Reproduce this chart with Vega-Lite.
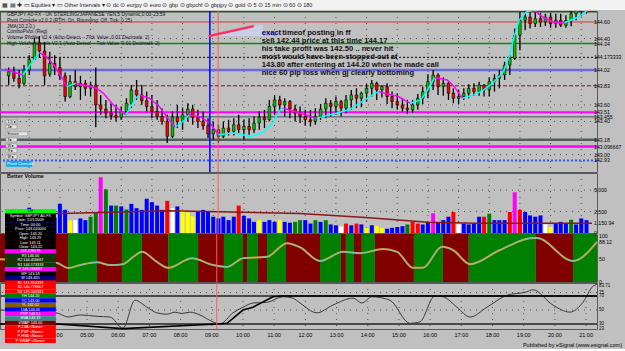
{
"$schema": "https://vega.github.io/schema/vega-lite/v6.json",
"padding": {"left": -5, "right": 0, "top": 0, "bottom": 0},
"autosize": {"type": "pad"},
"background": "#c0c0c0",
"spacing": 1,
"bounds": "flush",
"resolve": {"scale": {"x": "independent", "y": "independent", "color": "independent", "strokeDash": "independent", "strokeWidth": "independent"}},
"config": {
  "view": {"fill": "#c0c0c0", "stroke": "#5a5a5a", "strokeWidth": 1},
  "font": "Liberation Sans"
},
"datasets": {
  "candles": [
    {"t":2.33,"o":143.95,"h":144.05,"l":143.84,"c":144.00},{"t":2.5,"o":144.00,"h":144.06,"l":143.88,"c":143.92},{"t":2.67,"o":143.92,"h":144.02,"l":143.80,"c":143.86},{"t":2.83,"o":143.86,"h":144.08,"l":143.84,"c":144.02},
    {"t":3,"o":144.02,"h":144.20,"l":143.96,"c":144.15},{"t":3.17,"o":144.15,"h":144.41,"l":144.14,"c":144.35},{"t":3.33,"o":144.35,"h":144.43,"l":144.17,"c":144.25},{"t":3.5,"o":144.25,"h":144.36,"l":143.84,"c":143.95},{"t":3.67,"o":143.97,"h":144.24,"l":143.94,"c":144.10},{"t":3.83,"o":144.10,"h":144.20,"l":143.96,"c":144.05},
    {"t":4,"o":144.05,"h":144.17,"l":143.90,"c":143.95},{"t":4.17,"o":143.95,"h":143.99,"l":143.64,"c":143.70},{"t":4.33,"o":143.70,"h":143.96,"l":143.68,"c":143.88},{"t":4.5,"o":143.88,"h":144.02,"l":143.78,"c":143.82},{"t":4.67,"o":143.82,"h":143.95,"l":143.66,"c":143.86},{"t":4.83,"o":143.86,"h":143.90,"l":143.71,"c":143.80},
    {"t":5,"o":143.80,"h":143.88,"l":143.70,"c":143.84},{"t":5.17,"o":143.84,"h":144.05,"l":143.33,"c":143.60},{"t":5.33,"o":143.60,"h":143.72,"l":143.48,"c":143.55},{"t":5.5,"o":143.55,"h":143.66,"l":143.44,"c":143.50},{"t":5.67,"o":143.50,"h":143.62,"l":143.42,"c":143.47},{"t":5.83,"o":143.47,"h":143.60,"l":143.40,"c":143.45},
    {"t":6,"o":143.45,"h":143.58,"l":143.42,"c":143.52},{"t":6.17,"o":143.52,"h":143.68,"l":143.48,"c":143.62},{"t":6.33,"o":143.62,"h":143.84,"l":143.56,"c":143.78},{"t":6.5,"o":143.78,"h":143.90,"l":143.66,"c":143.72},{"t":6.67,"o":143.72,"h":143.84,"l":143.60,"c":143.65},{"t":6.83,"o":143.65,"h":143.76,"l":143.52,"c":143.58},
    {"t":7,"o":143.58,"h":143.72,"l":143.44,"c":143.52},{"t":7.17,"o":143.52,"h":143.66,"l":143.42,"c":143.46},{"t":7.33,"o":143.46,"h":143.56,"l":143.36,"c":143.40},{"t":7.5,"o":143.40,"h":143.48,"l":143.14,"c":143.22},{"t":7.67,"o":143.22,"h":143.52,"l":143.20,"c":143.45},{"t":7.83,"o":143.45,"h":143.60,"l":143.32,"c":143.40},
    {"t":8,"o":143.40,"h":143.56,"l":143.30,"c":143.48},{"t":8.17,"o":143.48,"h":143.62,"l":143.40,"c":143.55},{"t":8.33,"o":143.55,"h":143.60,"l":143.36,"c":143.45},{"t":8.5,"o":143.45,"h":143.54,"l":143.32,"c":143.40},{"t":8.67,"o":143.40,"h":143.52,"l":143.30,"c":143.35},{"t":8.83,"o":143.35,"h":143.44,"l":143.20,"c":143.25},
    {"t":9,"o":143.25,"h":143.40,"l":143.18,"c":143.30},{"t":9.17,"o":143.30,"h":143.36,"l":143.14,"c":143.22},{"t":9.33,"o":143.22,"h":143.40,"l":143.20,"c":143.32},{"t":9.5,"o":143.32,"h":143.42,"l":143.23,"c":143.28},{"t":9.67,"o":143.28,"h":143.44,"l":143.23,"c":143.36},{"t":9.83,"o":143.36,"h":143.48,"l":143.26,"c":143.30},
    {"t":10,"o":143.30,"h":143.42,"l":143.18,"c":143.34},{"t":10.17,"o":143.34,"h":143.44,"l":143.24,"c":143.30},{"t":10.33,"o":143.30,"h":143.46,"l":143.26,"c":143.38},{"t":10.5,"o":143.38,"h":143.52,"l":143.30,"c":143.45},{"t":10.67,"o":143.45,"h":143.54,"l":143.32,"c":143.42},{"t":10.83,"o":143.42,"h":143.66,"l":143.40,"c":143.58},
    {"t":11,"o":143.58,"h":143.72,"l":143.48,"c":143.66},{"t":11.17,"o":143.66,"h":143.71,"l":143.52,"c":143.60},{"t":11.33,"o":143.60,"h":143.68,"l":143.46,"c":143.64},{"t":11.5,"o":143.64,"h":143.66,"l":143.44,"c":143.55},{"t":11.67,"o":143.55,"h":143.60,"l":143.40,"c":143.50},{"t":11.83,"o":143.50,"h":143.58,"l":143.38,"c":143.46},
    {"t":12,"o":143.46,"h":143.54,"l":143.35,"c":143.42},{"t":12.17,"o":143.42,"h":143.54,"l":143.34,"c":143.40},{"t":12.33,"o":143.40,"h":143.56,"l":143.36,"c":143.46},{"t":12.5,"o":143.46,"h":143.61,"l":143.42,"c":143.55},{"t":12.67,"o":143.55,"h":143.68,"l":143.44,"c":143.62},{"t":12.83,"o":143.62,"h":143.66,"l":143.46,"c":143.58},
    {"t":13,"o":143.58,"h":143.70,"l":143.48,"c":143.64},{"t":13.17,"o":143.64,"h":143.66,"l":143.46,"c":143.56},{"t":13.33,"o":143.56,"h":143.72,"l":143.50,"c":143.66},{"t":13.5,"o":143.66,"h":143.78,"l":143.54,"c":143.72},{"t":13.67,"o":143.72,"h":143.80,"l":143.56,"c":143.68},{"t":13.83,"o":143.68,"h":143.76,"l":143.57,"c":143.74},
    {"t":14,"o":143.74,"h":143.85,"l":143.64,"c":143.80},{"t":14.17,"o":143.80,"h":143.90,"l":143.70,"c":143.86},{"t":14.33,"o":143.86,"h":143.88,"l":143.66,"c":143.78},{"t":14.5,"o":143.78,"h":143.84,"l":143.69,"c":143.82},{"t":14.67,"o":143.82,"h":143.86,"l":143.61,"c":143.70},{"t":14.83,"o":143.70,"h":143.76,"l":143.56,"c":143.64},
    {"t":15,"o":143.64,"h":143.74,"l":143.54,"c":143.60},{"t":15.17,"o":143.60,"h":143.68,"l":143.52,"c":143.56},{"t":15.33,"o":143.56,"h":143.66,"l":143.49,"c":143.54},{"t":15.5,"o":143.54,"h":143.66,"l":143.50,"c":143.60},{"t":15.67,"o":143.60,"h":143.73,"l":143.54,"c":143.68},{"t":15.83,"o":143.68,"h":143.82,"l":143.61,"c":143.76},
    {"t":16,"o":143.76,"h":143.97,"l":143.68,"c":143.88},{"t":16.17,"o":143.88,"h":144.02,"l":143.78,"c":143.96},{"t":16.33,"o":143.96,"h":143.98,"l":143.72,"c":143.82},{"t":16.5,"o":143.82,"h":143.93,"l":143.71,"c":143.86},{"t":16.67,"o":143.86,"h":143.88,"l":143.66,"c":143.74},{"t":16.83,"o":143.74,"h":143.80,"l":143.62,"c":143.68},
    {"t":17,"o":143.68,"h":143.78,"l":143.61,"c":143.70},{"t":17.17,"o":143.70,"h":143.80,"l":143.66,"c":143.74},{"t":17.33,"o":143.74,"h":143.85,"l":143.68,"c":143.80},{"t":17.5,"o":143.80,"h":143.86,"l":143.71,"c":143.76},{"t":17.67,"o":143.76,"h":143.88,"l":143.71,"c":143.84},{"t":17.83,"o":143.84,"h":143.85,"l":143.70,"c":143.78},
    {"t":18,"o":143.78,"h":143.93,"l":143.70,"c":143.88},{"t":18.17,"o":143.88,"h":143.97,"l":143.76,"c":143.92},{"t":18.33,"o":143.92,"h":144.02,"l":143.80,"c":143.96},{"t":18.5,"o":143.96,"h":144.12,"l":143.90,"c":144.08},{"t":18.67,"o":144.08,"h":144.20,"l":143.96,"c":144.16},{"t":18.83,"o":144.16,"h":144.52,"l":144.14,"c":144.44},
    {"t":19,"o":144.44,"h":144.72,"l":144.26,"c":144.62},{"t":19.17,"o":144.62,"h":144.76,"l":144.50,"c":144.66},{"t":19.33,"o":144.66,"h":144.76,"l":144.52,"c":144.58},{"t":19.5,"o":144.58,"h":144.72,"l":144.54,"c":144.64},{"t":19.67,"o":144.64,"h":144.71,"l":144.54,"c":144.60},{"t":19.83,"o":144.60,"h":144.70,"l":144.55,"c":144.66},
    {"t":20,"o":144.66,"h":144.71,"l":144.53,"c":144.58},{"t":20.17,"o":144.58,"h":144.70,"l":144.53,"c":144.62},{"t":20.33,"o":144.62,"h":144.70,"l":144.54,"c":144.56},{"t":20.5,"o":144.56,"h":144.68,"l":144.53,"c":144.62},{"t":20.67,"o":144.62,"h":144.74,"l":144.55,"c":144.70},{"t":20.83,"o":144.70,"h":144.79,"l":144.62,"c":144.76},
    {"t":21,"o":144.76,"h":144.84,"l":144.67,"c":144.80},{"t":21.17,"o":144.80,"h":144.86,"l":144.70,"c":144.84}
  ],
  "vol": [
    {"t":2.33,"v":2050,"k":"n"},{"t":2.5,"v":1900,"k":"n"},{"t":2.67,"v":1480,"k":"n"},{"t":2.83,"v":1800,"k":"n"},
    {"t":3,"v":2950,"k":"n"},{"t":3.17,"v":2200,"k":"n"},{"t":3.33,"v":1900,"k":"n"},{"t":3.5,"v":2400,"k":"n"},{"t":3.67,"v":2100,"k":"n"},{"t":3.83,"v":1800,"k":"n"},
    {"t":4,"v":3400,"k":"n"},{"t":4.17,"v":2700,"k":"n"},{"t":4.33,"v":1480,"k":"y"},{"t":4.5,"v":1500,"k":"w"},{"t":4.67,"v":1700,"k":"n"},{"t":4.83,"v":1500,"k":"n"},
    {"t":5,"v":1900,"k":"g"},{"t":5.17,"v":2400,"k":"g"},{"t":5.33,"v":6500,"k":"m"},{"t":5.5,"v":5100,"k":"g"},{"t":5.67,"v":3200,"k":"n"},{"t":5.83,"v":3200,"k":"g"},
    {"t":6,"v":3100,"k":"n"},{"t":6.17,"v":2750,"k":"g"},{"t":6.33,"v":3400,"k":"n"},{"t":6.5,"v":2900,"k":"n"},{"t":6.67,"v":2700,"k":"n"},{"t":6.83,"v":4000,"k":"n"},
    {"t":7,"v":3600,"k":"n"},{"t":7.17,"v":3200,"k":"n"},{"t":7.33,"v":2700,"k":"n"},{"t":7.5,"v":3750,"k":"c"},{"t":7.67,"v":2900,"k":"w"},{"t":7.83,"v":3100,"k":"n"},
    {"t":8,"v":2700,"k":"y"},{"t":8.17,"v":2400,"k":"y"},{"t":8.33,"v":1950,"k":"y"},{"t":8.5,"v":2450,"k":"n"},{"t":8.67,"v":2700,"k":"n"},{"t":8.83,"v":2450,"k":"n"},
    {"t":9,"v":1900,"k":"n"},{"t":9.17,"v":1700,"k":"n"},{"t":9.33,"v":1900,"k":"n"},{"t":9.5,"v":1500,"k":"n"},{"t":9.67,"v":1900,"k":"n"},{"t":9.83,"v":3200,"k":"c"},
    {"t":10,"v":2000,"k":"n"},{"t":10.17,"v":1700,"k":"n"},{"t":10.33,"v":1300,"k":"n"},{"t":10.5,"v":1500,"k":"y"},{"t":10.67,"v":1300,"k":"n"},{"t":10.83,"v":1500,"k":"n"},
    {"t":11,"v":1300,"k":"n"},{"t":11.17,"v":1500,"k":"y"},{"t":11.33,"v":1300,"k":"n"},{"t":11.5,"v":1200,"k":"n"},{"t":11.67,"v":1300,"k":"g"},{"t":11.83,"v":1500,"k":"g"},
    {"t":12,"v":1500,"k":"n"},{"t":12.17,"v":1100,"k":"n"},{"t":12.33,"v":1500,"k":"g"},{"t":12.5,"v":1300,"k":"n"},{"t":12.67,"v":1500,"k":"g"},{"t":12.83,"v":1000,"k":"n"},
    {"t":13,"v":900,"k":"n"},{"t":13.17,"v":750,"k":"w"},{"t":13.33,"v":1100,"k":"c"},{"t":13.5,"v":900,"k":"n"},{"t":13.67,"v":1100,"k":"c"},{"t":13.83,"v":1000,"k":"n"},
    {"t":14,"v":600,"k":"y"},{"t":14.17,"v":900,"k":"n"},{"t":14.33,"v":800,"k":"y"},{"t":14.5,"v":600,"k":"y"},{"t":14.67,"v":500,"k":"n"},{"t":14.83,"v":600,"k":"n"},
    {"t":15,"v":700,"k":"n"},{"t":15.17,"v":800,"k":"n"},{"t":15.33,"v":1000,"k":"g"},{"t":15.5,"v":1300,"k":"c"},{"t":15.67,"v":1100,"k":"c"},{"t":15.83,"v":1000,"k":"n"},
    {"t":16,"v":1300,"k":"n"},{"t":16.17,"v":2300,"k":"m"},{"t":16.33,"v":1200,"k":"n"},{"t":16.5,"v":1500,"k":"n"},{"t":16.67,"v":1900,"k":"n"},{"t":16.83,"v":2450,"k":"c"},
    {"t":17,"v":1000,"k":"w"},{"t":17.17,"v":1100,"k":"n"},{"t":17.33,"v":1000,"k":"n"},{"t":17.5,"v":1100,"k":"n"},{"t":17.67,"v":1900,"k":"n"},{"t":17.83,"v":1900,"k":"c"},
    {"t":18,"v":2250,"k":"g"},{"t":18.17,"v":1500,"k":"n"},{"t":18.33,"v":1500,"k":"n"},{"t":18.5,"v":1500,"k":"n"},{"t":18.67,"v":2450,"k":"c"},{"t":18.83,"v":4750,"k":"m"},
    {"t":19,"v":2700,"k":"c"},{"t":19.17,"v":2450,"k":"n"},{"t":19.33,"v":2050,"k":"n"},{"t":19.5,"v":1900,"k":"n"},{"t":19.67,"v":2050,"k":"n"},{"t":19.83,"v":1000,"k":"w"},
    {"t":20,"v":700,"k":"y"},{"t":20.17,"v":1100,"k":"n"},{"t":20.33,"v":1300,"k":"n"},{"t":20.5,"v":1100,"k":"n"},{"t":20.67,"v":1550,"k":"g"},{"t":20.83,"v":1000,"k":"n"},
    {"t":21,"v":1700,"k":"n"},{"t":21.17,"v":1500,"k":"n"}
  ],
  "vma": [{"t":2.21,"v":2200},{"t":4.04,"v":2270},{"t":7.56,"v":2600},{"t":11.83,"v":2270},{"t":13.97,"v":1800},{"t":16.0,"v":1250},{"t":17.6,"v":1150},{"t":21.35,"v":1150}],
  "levels": [{"p":144.722,"k":"top"},{"p":144.60,"k":"a"},{"p":144.34,"k":"b"},{"p":144.173333,"k":"c"},{"p":144.02,"k":"d"},{"p":143.83,"k":"e"},{"p":143.51,"k":"f"},{"p":143.455,"k":"g"},{"p":143.18,"k":"h"},{"p":143.096667,"k":"f2"},{"p":142.93,"k":"i"}],
  "pgrid": [{"p":144.40},{"p":143.60},{"p":143.40},{"p":143.00}],
  "plabels": [{"p":144.60,"s":"144.60"},{"p":144.40,"s":"144.40"},{"p":144.34,"s":"144.34"},{"p":144.173333,"s":"144.173333"},{"p":144.02,"s":"144.02"},{"p":143.83,"s":"143.83"},{"p":143.60,"s":"143.60"},{"p":143.51,"s":"143.51"},{"p":143.455,"s":"143.455"},{"p":143.40,"s":"143.40"},{"p":143.18,"s":"143.18"},{"p":143.096667,"s":"143.096667"},{"p":143.00,"s":"143.00"},{"p":142.93,"s":"142.93"}],
  "buttons": [
    {"s":"1-5 ▸","a":143.419,"b":143.371,"t1":2.24,"t2":2.6},
    {"s":"3 ▸","a":143.359,"b":143.311,"t1":2.24,"t2":2.6},
    {"s":"Ensure","a":143.275,"b":143.227,"t1":2.24,"t2":2.95},
    {"s":"3 ▸","a":143.202,"b":143.154,"t1":2.24,"t2":2.6},
    {"s":"W ▸","a":143.130,"b":143.082,"t1":2.24,"t2":2.6},
    {"s":"R ▸","a":143.070,"b":143.022,"t1":2.24,"t2":2.6},
    {"s":"W ▸","a":142.998,"b":142.950,"t1":2.24,"t2":2.6}
  ],
  "vlabels": [{"v":5000,"s":"5,000"},{"v":2500,"s":"2,500"},{"v":1150.94,"s":"1,150.94"},{"v":0,"s":"0"}],
  "vgrid": [{"v":5000},{"v":2500}],
  "olabels": [{"v":100,"s":"100"},{"v":88.12,"s":"88.12"},{"v":50,"s":"50"},{"v":0,"s":"0"}],
  "blabels": [{"v":83.71,"s":"83.71"},{"v":75,"s":"75"},{"v":70,"s":"70"},{"v":50,"s":"50"},{"v":30,"s":"30"},{"v":23,"s":"23"}],
  "hours": [{"h":3,"s":"03:00"},{"h":4,"s":"04:00"},{"h":5,"s":"05:00"},{"h":6,"s":"06:00"},{"h":7,"s":"07:00"},{"h":8,"s":"08:00"},{"h":9,"s":"09:00"},{"h":10,"s":"10:00"},{"h":11,"s":"11:00"},{"h":12,"s":"12:00"},{"h":13,"s":"13:00"},{"h":14,"s":"14:00"},{"h":15,"s":"15:00"},{"h":16,"s":"16:00"},{"h":17,"s":"17:00"},{"h":18,"s":"18:00"},{"h":19,"s":"19:00"},{"h":20,"s":"20:00"},{"h":21,"s":"21:00"}],
  "jma": [
    {"t":2.21,"v":144.03,"s":1,"d":"dn"},{"t":2.79,"v":143.96,"s":1,"d":"dn"},
    {"t":2.79,"v":143.96,"s":2,"d":"up"},{"t":3.33,"v":144.23,"s":2,"d":"up"},
    {"t":3.33,"v":144.23,"s":3,"d":"dn"},{"t":3.56,"v":144.18,"s":3,"d":"dn"},{"t":3.81,"v":144.08,"s":3,"d":"dn"},{"t":4.04,"v":143.94,"s":3,"d":"dn"},{"t":4.23,"v":143.82,"s":3,"d":"dn"},
    {"t":4.23,"v":143.82,"s":4,"d":"up"},{"t":4.52,"v":143.86,"s":4,"d":"up"},
    {"t":4.52,"v":143.86,"s":5,"d":"dn"},{"t":5.19,"v":143.80,"s":5,"d":"dn"},{"t":5.42,"v":143.74,"s":5,"d":"dn"},{"t":5.74,"v":143.60,"s":5,"d":"dn"},{"t":6.15,"v":143.48,"s":5,"d":"dn"},
    {"t":6.15,"v":143.48,"s":6,"d":"up"},{"t":6.47,"v":143.68,"s":6,"d":"up"},{"t":6.6,"v":143.72,"s":6,"d":"up"},
    {"t":6.6,"v":143.72,"s":7,"d":"dn"},{"t":6.92,"v":143.68,"s":7,"d":"dn"},{"t":7.24,"v":143.58,"s":7,"d":"dn"},{"t":7.56,"v":143.42,"s":7,"d":"dn"},{"t":7.76,"v":143.33,"s":7,"d":"dn"},
    {"t":7.76,"v":143.33,"s":8,"d":"up"},{"t":8.08,"v":143.42,"s":8,"d":"up"},{"t":8.21,"v":143.48,"s":8,"d":"up"},
    {"t":8.21,"v":143.48,"s":9,"d":"dn"},{"t":8.62,"v":143.45,"s":9,"d":"dn"},{"t":8.94,"v":143.36,"s":9,"d":"dn"},{"t":9.17,"v":143.24,"s":9,"d":"dn"},
    {"t":9.17,"v":143.24,"s":10,"d":"up"},{"t":9.68,"v":143.26,"s":10,"d":"up"},{"t":10.22,"v":143.22,"s":10,"d":"up"},{"t":10.64,"v":143.27,"s":10,"d":"up"},{"t":10.93,"v":143.38,"s":10,"d":"up"},{"t":11.19,"v":143.54,"s":10,"d":"up"},{"t":11.28,"v":143.56,"s":10,"d":"up"},
    {"t":11.28,"v":143.56,"s":11,"d":"dn"},{"t":11.83,"v":143.50,"s":11,"d":"dn"},{"t":12.37,"v":143.44,"s":11,"d":"dn"},
    {"t":12.37,"v":143.44,"s":12,"d":"up"},{"t":13.01,"v":143.50,"s":12,"d":"up"},{"t":13.43,"v":143.54,"s":12,"d":"up"},{"t":13.85,"v":143.64,"s":12,"d":"up"},{"t":14.23,"v":143.73,"s":12,"d":"up"},{"t":14.39,"v":143.76,"s":12,"d":"up"},
    {"t":14.39,"v":143.76,"s":13,"d":"dn"},{"t":15.03,"v":143.70,"s":13,"d":"dn"},{"t":15.42,"v":143.62,"s":13,"d":"dn"},
    {"t":15.42,"v":143.62,"s":14,"d":"up"},{"t":15.77,"v":143.66,"s":14,"d":"up"},{"t":15.99,"v":143.78,"s":14,"d":"up"},{"t":16.22,"v":143.93,"s":14,"d":"up"},
    {"t":16.22,"v":143.93,"s":15,"d":"dn"},{"t":16.63,"v":143.90,"s":15,"d":"dn"},{"t":16.86,"v":143.82,"s":15,"d":"dn"},{"t":17.12,"v":143.68,"s":15,"d":"dn"},
    {"t":17.12,"v":143.68,"s":16,"d":"up"},{"t":17.5,"v":143.72,"s":16,"d":"up"},{"t":17.82,"v":143.78,"s":16,"d":"up"},{"t":18.14,"v":143.87,"s":16,"d":"up"},{"t":18.46,"v":144.00,"s":16,"d":"up"},{"t":18.65,"v":144.18,"s":16,"d":"up"},{"t":18.78,"v":144.38,"s":16,"d":"up"},{"t":18.97,"v":144.62,"s":16,"d":"up"},{"t":19.2,"v":144.72,"s":16,"d":"up"},{"t":19.46,"v":144.74,"s":16,"d":"up"},
    {"t":19.46,"v":144.74,"s":17,"d":"dn"},{"t":19.75,"v":144.66,"s":17,"d":"dn"},{"t":20.07,"v":144.60,"s":17,"d":"dn"},{"t":20.45,"v":144.59,"s":17,"d":"dn"},
    {"t":20.45,"v":144.59,"s":18,"d":"up"},{"t":20.9,"v":144.66,"s":18,"d":"up"},{"t":21.35,"v":144.78,"s":18,"d":"up"}
  ],
  "bands": [{"a":2.21,"b":4.39,"k":"r"},{"a":4.39,"b":5.32,"k":"g"},{"a":5.32,"b":6.12,"k":"r"},{"a":6.12,"b":6.76,"k":"g"},{"a":6.76,"b":7.6,"k":"r"},{"a":7.6,"b":8.56,"k":"g"},{"a":8.56,"b":9.39,"k":"r"},{"a":9.39,"b":10.0,"k":"g"},{"a":10.0,"b":10.13,"k":"r"},{"a":10.13,"b":10.48,"k":"g"},{"a":10.48,"b":10.77,"k":"r"},{"a":10.77,"b":11.38,"k":"g"},{"a":11.38,"b":12.47,"k":"r"},{"a":12.47,"b":13.14,"k":"g"},{"a":13.14,"b":13.3,"k":"r"},{"a":13.3,"b":13.56,"k":"g"},{"a":13.56,"b":13.81,"k":"r"},{"a":13.81,"b":14.23,"k":"g"},{"a":14.23,"b":15.48,"k":"r"},{"a":15.48,"b":16.41,"k":"g"},{"a":16.41,"b":17.24,"k":"r"},{"a":17.24,"b":19.39,"k":"g"},{"a":19.39,"b":20.58,"k":"r"},{"a":20.58,"b":21.35,"k":"g"}],
  "osc": [{"t":2.21,"v":50},{"t":3.2,"v":46},{"t":4.04,"v":41.6},{"t":4.39,"v":30.6},{"t":4.78,"v":37},{"t":5.32,"v":43},{"t":5.74,"v":37},{"t":6.15,"v":39},{"t":6.5,"v":56},{"t":6.76,"v":66},{"t":7.24,"v":44},{"t":7.6,"v":31},{"t":8.37,"v":52},{"t":9.04,"v":37},{"t":9.49,"v":33},{"t":10.0,"v":52},{"t":10.77,"v":55},{"t":11.41,"v":85},{"t":11.83,"v":76},{"t":12.47,"v":46},{"t":13.21,"v":66},{"t":13.75,"v":63},{"t":14.49,"v":72},{"t":14.94,"v":66},{"t":15.45,"v":31},{"t":15.77,"v":31},{"t":16.38,"v":77},{"t":16.73,"v":70},{"t":17.28,"v":39},{"t":18.24,"v":70},{"t":19.29,"v":96},{"t":19.42,"v":96},{"t":20.58,"v":46},{"t":21.35,"v":88}],
  "bot": [{"t":2.21,"v":50},{"t":4.04,"v":45.7},{"t":4.39,"v":40},{"t":4.78,"v":43},{"t":5.32,"v":41},{"t":5.74,"v":40},{"t":6.15,"v":24},{"t":6.54,"v":64},{"t":6.92,"v":54},{"t":7.24,"v":46},{"t":7.56,"v":44},{"t":7.82,"v":47},{"t":8.04,"v":45},{"t":8.3,"v":47},{"t":8.62,"v":43},{"t":9.04,"v":33},{"t":9.26,"v":30},{"t":9.68,"v":46},{"t":10.0,"v":54},{"t":10.32,"v":60},{"t":10.77,"v":61},{"t":11.28,"v":69},{"t":11.6,"v":67},{"t":11.83,"v":60},{"t":12.37,"v":46},{"t":12.88,"v":57},{"t":13.53,"v":67},{"t":13.81,"v":60},{"t":14.13,"v":69},{"t":14.71,"v":64},{"t":15.35,"v":31},{"t":15.67,"v":33},{"t":16.15,"v":70},{"t":16.41,"v":69},{"t":16.86,"v":54},{"t":17.28,"v":40},{"t":17.82,"v":54},{"t":18.46,"v":71},{"t":19.1,"v":76},{"t":19.29,"v":79},{"t":19.94,"v":57},{"t":20.48,"v":47},{"t":20.9,"v":61},{"t":21.22,"v":84},{"t":21.35,"v":87}],
  "sig": [{"t":2.21,"v":30},{"t":4.04,"v":30},{"t":6.15,"v":23.5},{"t":9.16,"v":30},{"t":9.49,"v":31},{"t":10.0,"v":50},{"t":10.32,"v":54},{"t":10.96,"v":69},{"t":11.2,"v":70},{"t":21.35,"v":70}],
  "botlev": [{"v":70,"k":"s"},{"v":30,"k":"s"},{"v":50,"k":"d"},{"v":75,"k":"d"}],
  "marks": [{"t":8.89,"k":"post"},{"t":9.16,"k":"now"}],
  "pink": [{"t":8.85,"p":144.43},{"t":10.32,"p":144.55}],
  "hl": [{"t":8.9,"p":144.43},{"t":10.32,"p":144.55},{"t":10.62,"p":144.57}],
  "notes": [
    {"t":10.58,"p":144.465,"s":"exact","k":"b"},
    {"t":11.25,"p":144.465,"s":"timeof posting in ff","k":"k"},
    {"t":10.58,"p":144.371,"s":"sell 142.44 price at this time 144.17","k":"k"},
    {"t":10.58,"p":144.275,"s":"his take profit was 142.50 .. never hit","k":"k"},
    {"t":10.58,"p":144.178,"s":"most would have been stopped out at","k":"k"},
    {"t":10.58,"p":144.082,"s":"143.80 after entering at 144.20 when he made call","k":"k"},
    {"t":10.58,"p":143.985,"s":"nice 60 pip loss when gj clearly bottoming","k":"k"}
  ],
  "legend": [
    {"r":1,"g":"hdr","s":"DH"},{"r":2,"g":"info","s":"Symbol: GBPJPY A0-FX"},{"r":3,"g":"info","s":"Date: 12/1/2009"},{"r":4,"g":"info","s":"Time: 00:00"},{"r":5,"g":"info","s":"Price: 143.020000"},{"r":6,"g":"info","s":"Open: 143.20"},{"r":7,"g":"info","s":"High: 143.29"},{"r":8,"g":"info","s":"Low: 143.11"},{"r":9,"g":"info","s":"Close: 143.22"},
    {"r":10,"g":"mag","s":"143.229175"},{"r":11,"g":"res","s":"R3 146.00"},{"r":12,"g":"res","s":"R2 144.456667"},{"r":13,"g":"res","s":"R1 144.173333"},{"r":14,"g":"mag","s":"P 143.096667"},{"r":15,"g":"info","s":"MP 143.18"},{"r":16,"g":"navy","s":"W 143.455"},
    {"r":17,"g":"sup","s":"S1 141.650333"},{"r":18,"g":"sup","s":"S2 140.778667"},{"r":19,"g":"sup","s":"S3 139.500333"},{"r":20,"g":"yh","s":"YH 144.20"},{"r":21,"g":"blue","s":"YC 143.00"},{"r":22,"g":"yl","s":"YL 142.02"},{"r":23,"g":"blue","s":"LVA 143.00"},{"r":24,"g":"mag","s":"PVP 143.51"},{"r":25,"g":"hva","s":"HVA 143.19"},{"r":26,"g":"vwap","s":"VWAP 143.00"},
    {"r":27,"g":"sup","s":"P-LVA <None>"},{"r":28,"g":"sup","s":"P-PVP <None>"},{"r":29,"g":"sup","s":"P-HVA <None>"},{"r":30,"g":"sup","s":"P-VWAP <None>"}
  ],
  "toolbar": [{"s":"▦ ▤ ✚  ▭ Equities ▾    ▭ Other Intervals ▾    ⊙ dc    ⊙ eurjpy    ⊙ euro    ⊙ gbp    ⊙ gbpchf    ⊙ gbpjpy    ⊙ gold    ⊙ 5    ⊙ 15 min    ⊙ 60    ⊙ 180"}],
  "info": [{"s":"x"}]
},
"vconcat": [
  {
    "width": 625, "height": 10,
    "view": {"fill": "#f2f2f2", "stroke": null},
    "data": {"name": "toolbar"},
    "mark": {"type": "text", "align": "left", "baseline": "middle", "fontSize": 5.5, "dx": 2, "color": "#202020"},
    "encoding": {
      "x": {"datum": 0, "type": "quantitative", "scale": {"domain": [0, 1]}, "axis": null},
      "y": {"datum": 0.5, "type": "quantitative", "scale": {"domain": [0, 1]}, "axis": null},
      "text": {"field": "s"}
    }
  },
  {
    "width": 597, "height": 161,
    "resolve": {"scale": {"color": "independent", "strokeDash": "independent", "strokeWidth": "independent"}},
    "layer": [
      {"data": {"name": "hours"}, "mark": {"type": "rule", "color": "#505050", "strokeDash": [1, 5]},
       "encoding": {"x": {"field": "h", "type": "quantitative", "scale": {"domain": [2.21, 21.35], "nice": false, "zero": false}, "axis": null}}},
      {"data": {"name": "pgrid"}, "mark": {"type": "rule", "color": "#505050", "strokeDash": [1, 5]},
       "encoding": {"y": {"field": "p", "type": "quantitative", "scale": {"domain": [142.79, 144.7325], "nice": false, "zero": false}, "axis": null}}},
      {"data": {"name": "hl"}, "mark": {"type": "area", "color": "#c9cfe6", "clip": true},
       "encoding": {"x": {"field": "t", "type": "quantitative", "axis": null}, "y": {"field": "p", "type": "quantitative", "axis": null}, "y2": {"datum": 144.43}}},
      {"data": {"name": "levels"}, "mark": {"type": "rule"},
       "encoding": {"y": {"field": "p", "type": "quantitative", "axis": null},
         "color": {"field": "k", "type": "nominal", "legend": null, "scale": {"domain": ["top","a","b","c","d","e","f","g","h","f2","i"], "range": ["#1f5a1f","#c83c3c","#0a8a0a","#000000","#6a6ad8","#8b1010","#ff00ff","#4a4a6a","#4f5f5f","#ff00ff","#3050ff"]}},
         "strokeDash": {"field": "k", "type": "nominal", "legend": null, "scale": {"domain": ["top","a","b","c","d","e","f","g","h","f2","i"], "range": [[1,0],[1,0],[1,0],[2,2],[1,0],[4,2],[1,0],[1,0],[1,0],[1,0],[2,2]]}},
         "strokeWidth": {"field": "k", "type": "ordinal", "legend": null, "scale": {"type": "ordinal", "domain": ["top","a","b","c","d","e","f","g","h","f2","i"], "range": [1.5,1,1.5,1,2.5,1,2,1,2.5,2.5,2]}}}},
      {"data": {"name": "candles"}, "mark": {"type": "rule", "color": "#000000", "strokeWidth": 1.3, "clip": true},
       "encoding": {"x": {"field": "t", "type": "quantitative", "axis": null}, "y": {"field": "l", "type": "quantitative", "axis": null}, "y2": {"field": "h"}}},
      {"data": {"name": "candles"}, "mark": {"type": "bar", "size": 2.6, "stroke": "#000000", "strokeWidth": 0.6, "clip": true},
       "encoding": {"x": {"field": "t", "type": "quantitative", "axis": null}, "y": {"field": "o", "type": "quantitative", "axis": null}, "y2": {"field": "c"},
         "color": {"condition": {"test": "datum.c >= datum.o", "value": "#00c800"}, "value": "#ff0000"}}},
      {"data": {"name": "jma"}, "mark": {"type": "line", "strokeWidth": 1.5, "clip": true},
       "encoding": {"x": {"field": "t", "type": "quantitative", "axis": null}, "y": {"field": "v", "type": "quantitative", "axis": null}, "detail": {"field": "s", "type": "nominal"},
         "color": {"field": "d", "type": "nominal", "legend": null, "scale": {"domain": ["up","dn"], "range": ["#00ffff","#ff00ff"]}}}},
      {"data": {"name": "marks"}, "mark": {"type": "rule"},
       "encoding": {"x": {"field": "t", "type": "quantitative", "axis": null},
         "color": {"field": "k", "type": "nominal", "legend": null, "scale": {"domain": ["post","now"], "range": ["#0000ff","#ff5a5a"]}},
         "strokeWidth": {"field": "k", "type": "ordinal", "legend": null, "scale": {"type": "ordinal", "domain": ["post","now"], "range": [1.5, 1]}}}},
      {"data": {"name": "pink"}, "mark": {"type": "line", "color": "#ff2a62", "strokeWidth": 2.2},
       "encoding": {"x": {"field": "t", "type": "quantitative", "axis": null}, "y": {"field": "p", "type": "quantitative", "axis": null}}},
      {"data": {"name": "notes"}, "mark": {"type": "text", "align": "left", "baseline": "middle", "fontSize": 7.6, "fontWeight": "bold"},
       "encoding": {"x": {"field": "t", "type": "quantitative", "axis": null}, "y": {"field": "p", "type": "quantitative", "axis": null}, "text": {"field": "s"},
         "color": {"field": "k", "type": "nominal", "legend": null, "scale": {"domain": ["b","k"], "range": ["#00007a","#101010"]}}}},
      {"data": {"name": "info"}, "mark": {"type": "text", "align": "left", "baseline": "top", "fontSize": 4.9, "lineHeight": 5.8, "dx": 2, "dy": 1, "color": "#101018",
         "text": ["GBPJPY A0-FX - UK STERLING/JAPANESE YEN,5 Dynamic,0:00-23:59", "Pivot Console v2.0.2 (RTH: On, Rounding: Off, Tick: 0.25)", "JMA(10,2,0,)", "ComboPivot (Reg)", "Volume Profiler V2.4 (Auto-Detect -- Tick Value: 0.01 Decimals: 2)", "High-Volume Levels V2.1 (Auto-Detect -- Tick Value: 0.01 Decimals: 2)"]},
       "encoding": {"x": {"datum": 2.21, "type": "quantitative", "axis": null}, "y": {"datum": 144.7325, "type": "quantitative", "axis": null}}},
      {"data": {"name": "buttons"}, "mark": {"type": "rect", "color": "#e4e4e4", "stroke": "#808080", "strokeWidth": 0.5},
       "encoding": {"x": {"field": "t1", "type": "quantitative", "axis": null}, "x2": {"field": "t2"}, "y": {"field": "a", "type": "quantitative", "axis": null}, "y2": {"field": "b"}}},
      {"data": {"name": "buttons"}, "mark": {"type": "text", "fontSize": 3.6, "color": "#000000", "align": "left", "baseline": "middle", "dx": 1.5},
       "encoding": {"x": {"field": "t1", "type": "quantitative", "axis": null}, "y": {"field": "a", "type": "quantitative", "axis": null}, "text": {"field": "s"}, "yOffset": {"value": 2.4}}},
      {"data": {"name": "info"}, "mark": {"type": "rect", "color": "#10a8e8"},
       "encoding": {"x": {"datum": 2.24, "type": "quantitative", "axis": null}, "x2": {"datum": 3.1}, "y": {"datum": 142.925, "type": "quantitative", "axis": null}, "y2": {"datum": 142.853}}},
      {"data": {"name": "info"}, "mark": {"type": "text", "text": "Pivot Console", "fontSize": 4.4, "color": "#ffffff", "align": "left", "baseline": "middle", "dx": 1},
       "encoding": {"x": {"datum": 2.24, "type": "quantitative", "axis": null}, "y": {"datum": 142.889, "type": "quantitative", "axis": null}}},
      {"data": {"name": "plabels"}, "mark": {"type": "text", "align": "left", "baseline": "middle", "fontSize": 5.2, "dx": 2, "color": "#000000", "clip": false},
       "encoding": {"x": {"datum": 21.35, "type": "quantitative", "axis": null}, "y": {"field": "p", "type": "quantitative", "axis": null}, "text": {"field": "s"}}}
    ]
  },
  {
    "width": 597, "height": 60,
    "layer": [
      {"data": {"name": "hours"}, "mark": {"type": "rule", "color": "#505050", "strokeDash": [1, 5]},
       "encoding": {"x": {"field": "h", "type": "quantitative", "scale": {"domain": [2.21, 21.35], "nice": false, "zero": false}, "axis": null}}},
      {"data": {"name": "vgrid"}, "mark": {"type": "rule", "color": "#505050", "strokeDash": [1, 5]},
       "encoding": {"y": {"field": "v", "type": "quantitative", "scale": {"domain": [0, 7000], "nice": false}, "axis": null}}},
      {"data": {"name": "vol"}, "mark": {"type": "bar", "size": 4},
       "encoding": {"x": {"field": "t", "type": "quantitative", "axis": null}, "y": {"field": "v", "type": "quantitative", "axis": null},
         "color": {"field": "k", "type": "nominal", "legend": null, "scale": {"domain": ["n","c","g","m","y","w"], "range": ["#0000ff","#ff0000","#008000","#ff00ff","#ffff00","#ffffff"]}}}},
      {"data": {"name": "vma"}, "mark": {"type": "line", "color": "#8b1818", "strokeWidth": 1.5},
       "encoding": {"x": {"field": "t", "type": "quantitative", "axis": null}, "y": {"field": "v", "type": "quantitative", "axis": null}}},
      {"data": {"name": "marks"}, "transform": [{"filter": "datum.k == 'now'"}], "mark": {"type": "rule", "color": "#ff5a5a", "strokeWidth": 1},
       "encoding": {"x": {"field": "t", "type": "quantitative", "axis": null}}},
      {"data": {"name": "info"}, "mark": {"type": "text", "text": "Better Volume", "align": "left", "baseline": "top", "fontSize": 5.5, "fontWeight": "bold", "dx": 2, "dy": 1, "color": "#101010"},
       "encoding": {"x": {"datum": 2.21, "type": "quantitative", "axis": null}, "y": {"datum": 7000, "type": "quantitative", "axis": null}}},
      {"data": {"name": "vlabels"}, "mark": {"type": "text", "align": "left", "baseline": "middle", "fontSize": 5.2, "dx": 2, "color": "#000000", "clip": false},
       "encoding": {"x": {"datum": 21.35, "type": "quantitative", "axis": null}, "y": {"field": "v", "type": "quantitative", "axis": null}, "text": {"field": "s"}}}
    ]
  },
  {
    "width": 597, "height": 48,
    "layer": [
      {"data": {"name": "bands"}, "mark": {"type": "rect"},
       "encoding": {"x": {"field": "a", "type": "quantitative", "scale": {"domain": [2.21, 21.35], "nice": false, "zero": false}, "axis": null}, "x2": {"field": "b"},
         "color": {"field": "k", "type": "nominal", "legend": null, "scale": {"domain": ["g","r"], "range": ["#008000","#800000"]}}}},
      {"data": {"name": "osc"}, "mark": {"type": "line", "color": "#e89030", "strokeWidth": 2, "interpolate": "monotone"},
       "encoding": {"x": {"field": "t", "type": "quantitative", "axis": null},
         "y": {"field": "v", "type": "quantitative", "scale": {"domain": [0, 105], "nice": false}, "axis": null}}},
      {"data": {"name": "osc"}, "mark": {"type": "line", "color": "#48d8d8", "strokeWidth": 0.9, "interpolate": "monotone"},
       "encoding": {"x": {"field": "t", "type": "quantitative", "axis": null}, "y": {"field": "v", "type": "quantitative", "axis": null}}},
      {"data": {"name": "marks"}, "transform": [{"filter": "datum.k == 'now'"}], "mark": {"type": "rule", "color": "#ff5a5a", "strokeWidth": 1},
       "encoding": {"x": {"field": "t", "type": "quantitative", "axis": null}}},
      {"data": {"name": "olabels"}, "mark": {"type": "text", "align": "left", "baseline": "middle", "fontSize": 5.2, "dx": 2, "color": "#000000", "clip": false},
       "encoding": {"x": {"datum": 21.35, "type": "quantitative", "axis": null}, "y": {"field": "v", "type": "quantitative", "axis": null}, "text": {"field": "s"}}}
    ]
  },
  {
    "width": 597, "height": 46,
    "resolve": {"scale": {"y": "independent", "color": "independent", "strokeDash": "independent", "strokeWidth": "independent"}},
    "layer": [
      {"layer": [
        {"data": {"name": "hours"}, "mark": {"type": "rule", "color": "#505050", "strokeDash": [1, 5]},
         "encoding": {"x": {"field": "h", "type": "quantitative", "scale": {"domain": [2.21, 21.35], "nice": false, "zero": false}, "axis": null}}},
        {"data": {"name": "botlev"}, "mark": {"type": "rule"},
         "encoding": {"y": {"field": "v", "type": "quantitative", "scale": {"domain": [22.9, 88.6], "nice": false, "zero": false}, "axis": null},
           "color": {"field": "k", "type": "nominal", "legend": null, "scale": {"domain": ["s","d"], "range": ["#4a4a4a","#505050"]}},
           "strokeDash": {"field": "k", "type": "nominal", "legend": null, "scale": {"domain": ["s","d"], "range": [[1,0],[1,5]]}},
           "strokeWidth": {"field": "k", "type": "ordinal", "legend": null, "scale": {"type": "ordinal", "domain": ["s","d"], "range": [2, 1]}}}},
        {"data": {"name": "bot"}, "mark": {"type": "line", "color": "#3a3a3a", "strokeWidth": 1, "interpolate": "monotone"},
         "encoding": {"x": {"field": "t", "type": "quantitative", "axis": null}, "y": {"field": "v", "type": "quantitative", "axis": null}}},
        {"data": {"name": "sig"}, "mark": {"type": "line", "color": "#000000", "strokeWidth": 1.6},
         "encoding": {"x": {"field": "t", "type": "quantitative", "axis": null}, "y": {"field": "v", "type": "quantitative", "axis": null}}},
        {"data": {"name": "marks"}, "transform": [{"filter": "datum.k == 'now'"}], "mark": {"type": "rule", "color": "#ff5a5a", "strokeWidth": 1},
         "encoding": {"x": {"field": "t", "type": "quantitative", "axis": null}}},
        {"data": {"name": "blabels"}, "mark": {"type": "text", "align": "left", "baseline": "middle", "fontSize": 4.5, "dx": 2, "color": "#000000", "clip": false},
         "encoding": {"x": {"datum": 21.35, "type": "quantitative", "axis": null}, "y": {"field": "v", "type": "quantitative", "axis": null}, "text": {"field": "s"}}},
        {"data": {"name": "hours"}, "mark": {"type": "text", "align": "center", "baseline": "middle", "fontSize": 5.5, "dy": 6, "color": "#000000", "clip": false},
         "encoding": {"x": {"field": "h", "type": "quantitative", "axis": null}, "y": {"datum": 22.9, "type": "quantitative", "axis": null}, "text": {"field": "s"}}},
        {"data": {"name": "info"}, "mark": {"type": "text", "text": "Published by eSignal (www.esignal.com)", "align": "right", "baseline": "middle", "fontSize": 5.5, "dx": 25, "dy": 16, "color": "#000000", "clip": false},
         "encoding": {"x": {"datum": 21.35, "type": "quantitative", "axis": null}, "y": {"datum": 22.9, "type": "quantitative", "axis": null}}}
      ]},
      {"data": {"name": "legend"},
       "layer": [
        {"mark": {"type": "rect", "clip": false},
         "encoding": {"x": {"datum": 2.37, "type": "quantitative", "axis": null}, "x2": {"datum": 4.0},
           "y": {"field": "r", "type": "ordinal", "axis": null, "scale": {"range": [-74, 60], "paddingInner": 0, "paddingOuter": 0}},
           "color": {"field": "g", "type": "nominal", "legend": null, "scale": {"domain": ["hdr","info","mag","res","navy","sup","yh","blue","yl","hva","vwap"], "range": ["#00ff00","#000000","#ff00ff","#0a3a0a","#000080","#ff0000","#008000","#0000ff","#806000","#2f8f8f","#800000"]}}}},
        {"mark": {"type": "text", "fontSize": 3.8, "align": "center", "baseline": "middle", "clip": false},
         "encoding": {"x": {"datum": 3.185, "type": "quantitative", "axis": null},
           "y": {"field": "r", "type": "ordinal", "axis": null},
           "text": {"field": "s"},
           "color": {"condition": {"test": "datum.g == 'hdr'", "value": "#000000"}, "value": "#ffffff"}}}
       ]}
    ]
  }
]
}
